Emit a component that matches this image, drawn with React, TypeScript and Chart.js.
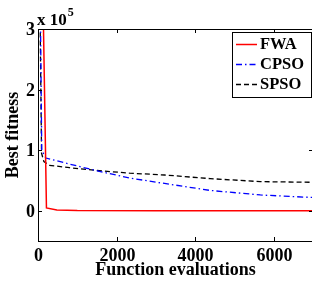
import React, { useEffect, useRef } from "react";
import { Chart, registerables } from "chart.js";

Chart.register(...registerables);

// Values are in units of 10^5
const SERIES_NAMES = ["FWA", "CPSO", "SPSO"];
const FWA_EVALS = [120, 140, 215, 480, 1000, 3000, 7000];
const FWA_VALUES = [5, 3.0, 0.045, 0.012, 0.003, 0.0, 0.0];
const CPSO_EVALS = [50, 95, 200, 800, 1560, 2330, 3220, 4380, 5660, 6930, 7000];
const CPSO_VALUES = [4, 1.0, 0.87, 0.77, 0.65, 0.54, 0.45, 0.335, 0.26, 0.22, 0.22];
const SPSO_EVALS = [40, 90, 150, 290, 800, 1560, 2330, 3220, 4380, 5660, 6930, 7000];
const SPSO_VALUES = [4, 0.95, 0.81, 0.75, 0.71, 0.66, 0.62, 0.59, 0.53, 0.48, 0.47, 0.47];
const X_TICKS = [0, 2000, 4000, 6000];
const Y_TICKS = [0, 1, 2, 3];
const X_RANGE = [0, 7000];
const Y_RANGE = [-0.5, 3];
const Y_EXPONENT = "5";
const X_TITLE = "Function evaluations";
const Y_TITLE = "Best fitness";

const FONT = '"Liberation Serif", "Times New Roman", serif';

const toPts = (xs: number[], ys: number[]) => xs.map((x, i) => ({ x, y: ys[i] }));

const framePlugin = {
  id: "matlabFrame",
  afterDatasetsDraw(chart: any) {
    const { ctx, chartArea: a, scales } = chart;
    const xs = scales.x;
    const ys = scales.y;
    ctx.save();
    ctx.strokeStyle = "#000";
    ctx.lineWidth = 1;
    ctx.setLineDash([]);
    ctx.strokeRect(Math.round(a.left) + 0.5, Math.round(a.top) + 0.5, Math.round(a.right - a.left), Math.round(a.bottom - a.top));
    const tl = 4;
    ctx.fillStyle = "#000";
    ctx.font = `bold 18px ${FONT}`;
    ctx.textAlign = "center";
    ctx.textBaseline = "top";
    X_TICKS.forEach((v) => {
      const px = Math.round(xs.getPixelForValue(v)) + 0.5;
      ctx.beginPath();
      ctx.moveTo(px, a.bottom);
      ctx.lineTo(px, a.bottom - tl);
      ctx.moveTo(px, a.top);
      ctx.lineTo(px, a.top + tl);
      ctx.stroke();
      ctx.fillText(String(v), px, a.bottom + 6);
    });
    ctx.textAlign = "right";
    ctx.textBaseline = "middle";
    Y_TICKS.forEach((v) => {
      const py = Math.round(ys.getPixelForValue(v)) + 0.5;
      ctx.beginPath();
      ctx.moveTo(a.left, py);
      ctx.lineTo(a.left + tl, py);
      ctx.moveTo(a.right, py);
      ctx.lineTo(a.right - tl, py);
      ctx.stroke();
      ctx.fillText(String(v), a.left - 3, py + 1);
    });
    // exponent label
    ctx.textAlign = "left";
    ctx.textBaseline = "alphabetic";
    ctx.font = `bold 17px ${FONT}`;
    ctx.fillText("x 10", a.left - 1, a.top - 4);
    const w = ctx.measureText("x 10").width;
    ctx.font = `bold 12px ${FONT}`;
    ctx.fillText(Y_EXPONENT, a.left - 1 + w + 1, a.top - 13);
    // axis titles
    ctx.font = `bold 18px ${FONT}`;
    ctx.textAlign = "center";
    ctx.textBaseline = "middle";
    ctx.fillText(X_TITLE, (a.left + a.right) / 2, 270);
    ctx.save();
    ctx.translate(13, (a.top + a.bottom) / 2);
    ctx.rotate(-Math.PI / 2);
    ctx.fillText(Y_TITLE, 0, 0);
    ctx.restore();
    // legend
    const lx = 232, ly = 32, lw = 79, lh = 65;
    ctx.fillStyle = "#fff";
    ctx.fillRect(lx, ly, lw, lh);
    ctx.strokeStyle = "#000";
    ctx.lineWidth = 1;
    ctx.strokeRect(lx + 0.5, ly + 0.5, lw, lh);
    ctx.font = `bold 16.5px ${FONT}`;
    ctx.textAlign = "left";
    ctx.textBaseline = "middle";
    chart.data.datasets.forEach((ds: any, i: number) => {
      const y = ly + 12 + i * 20;
      ctx.strokeStyle = ds.borderColor;
      ctx.lineWidth = ds.borderWidth;
      ctx.setLineDash(ds.borderDash || []);
      ctx.beginPath();
      ctx.moveTo(lx + 4, y + 0.5);
      ctx.lineTo(lx + 25, y + 0.5);
      ctx.stroke();
      ctx.setLineDash([]);
      ctx.fillStyle = "#000";
      ctx.fillText(ds.label, lx + 28, y + 1);
    });
    ctx.restore();
  },
};

export default function App() {
  const ref = useRef<HTMLCanvasElement | null>(null);
  useEffect(() => {
    if (!ref.current) return;
    const chart = new Chart(ref.current, {
      type: "line",
      data: {
        datasets: [
          {
            label: SERIES_NAMES[0],
            data: toPts(FWA_EVALS, FWA_VALUES),
            borderColor: "#ff0000",
            borderWidth: 1.5,
            pointRadius: 0,
            tension: 0,
          },
          {
            label: SERIES_NAMES[1],
            data: toPts(CPSO_EVALS, CPSO_VALUES),
            borderColor: "#0000ff",
            borderWidth: 1.3,
            borderDash: [6, 3, 1.5, 3],
            pointRadius: 0,
            tension: 0,
          },
          {
            label: SERIES_NAMES[2],
            data: toPts(SPSO_EVALS, SPSO_VALUES),
            borderColor: "#000000",
            borderWidth: 1.3,
            borderDash: [5, 3],
            pointRadius: 0,
            tension: 0,
          },
        ],
      },
      options: {
        animation: false,
        responsive: false,
        devicePixelRatio: 1,
        parsing: false as any,
        layout: { padding: { top: 29, right: 3, left: 0, bottom: 0 } },
        plugins: { legend: { display: false }, tooltip: { enabled: false } },
        scales: {
          x: {
            type: "linear",
            min: X_RANGE[0],
            max: X_RANGE[1],
            grid: { display: false, drawTicks: false },
            border: { display: false },
            ticks: { display: false },
            afterFit: (s: any) => {
              s.height = 40;
            },
          },
          y: {
            type: "linear",
            min: Y_RANGE[0],
            max: Y_RANGE[1],
            grid: { display: false, drawTicks: false },
            border: { display: false },
            ticks: { display: false },
            afterFit: (s: any) => {
              s.width = 38;
            },
          },
        },
      },
      plugins: [framePlugin],
    });
    return () => chart.destroy();
  }, []);
  return (
    <div style={{ position: "absolute", left: 0, top: 0, width: 312, height: 281, overflow: "hidden", background: "#fff" }}>
      <canvas ref={ref} width={316} height={281} style={{ width: 316, height: 281, display: "block" }} />
    </div>
  );
}
